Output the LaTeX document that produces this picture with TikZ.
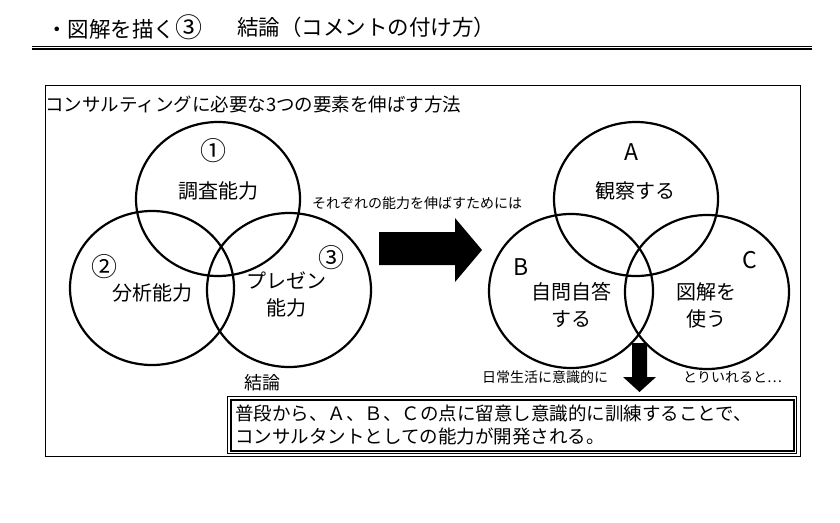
\documentclass[tikz,border=0pt]{standalone}
\usepackage{fontspec}
\setmainfont{Noto Sans CJK JP}
\usetikzlibrary{positioning,shapes.geometric}
\tikzset{
  venn/.style    = {ellipse, draw=black, line width=2.2pt, minimum width=164pt,
                    minimum height=154pt, inner sep=0pt},
  vlbl/.style    = {align=center, inner sep=0pt, font=\fontsize{20}{27}\selectfont},
  numlbl/.style  = {inner sep=0pt, font=\fontsize{26}{28}\selectfont},
  letlbl/.style  = {inner sep=0pt, font=\fontsize{23}{26}\selectfont},
  small/.style   = {anchor=west, inner sep=0pt, font=\fontsize{14}{17}\selectfont},
  heading/.style = {anchor=west, inner sep=0pt, font=\fontsize{18.5}{22}\selectfont},
  titletxt/.style = {anchor=west, inner sep=0pt, font=\fontsize{21.5}{24}\selectfont},
  blockarrow/.style = {fill=black},
}

\begin{document}
\begin{tikzpicture}[x=1pt, y=-1pt]
  \useasboundingbox (0,0) rectangle (840,522);

  % title and double rule
  \node[titletxt] (title) at (46,27) {・図解を描く{\fontsize{27}{28}\selectfont ③}};
  \node[titletxt] (subtitle) at (237,27) {結論（コメントの付け方）};
  \coordinate (ruleL) at (32,46);
  \coordinate (ruleR) at (812,46);
  \draw[line width=1pt] (ruleL) -- (ruleR);
  \draw[line width=2.5pt] ([yshift=-3pt]ruleL) -- ([yshift=-3pt]ruleR);

  % outer frame
  \node[draw, line width=1pt, minimum width=755pt, minimum height=371pt,
        inner sep=0pt, anchor=north west] (frame) at (45,85) {};
  \node[heading] (head) at (45,104) {コンサルティングに必要な3つの要素を伸ばす方法};

  % left venn diagram
  \node[venn] (survey) at (218,199) {};
  \node[venn] (analysis) at (152,288) {};
  \node[venn] (present) at (289,290) {};
  \node[numlbl] (n1) at (213,151) {①};
  \node[vlbl] (survey-t) at (218,191) {調査能力};
  \node[numlbl] (n2) at (104,267) {②};
  \node[vlbl] (analysis-t) at (152,293) {分析能力};
  \node[numlbl] (n3) at (331,258) {③};
  \node[vlbl] (present-t) at (286,294) {プレゼン\\能力};

  % big arrow
  \node[small] (toimprove) at (312,203) {それぞれの能力を伸ばすためには};
  \fill[blockarrow] (379,232) -- (455,232) -- (455,218) -- (482,250)
        -- (455,282) -- (455,265) -- (379,265) -- cycle;

  % right venn diagram
  \node[venn] (observe) at (636,199) {};
  \node[venn] (selfqa) at (571,291) {};
  \node[venn] (diagram) at (707,292) {};
  \node[letlbl] (nA) at (631,152) {A};
  \node[vlbl] (observe-t) at (635,191) {観察する};
  \node[letlbl] (nB) at (521,267) {B};
  \node[vlbl] (selfqa-t) at (571,305) {自問自答\\する};
  \node[letlbl] (nC) at (750,260) {C};
  \node[vlbl] (diagram-t) at (706,305) {図解を\\使う};

  % down arrow
  \fill[blockarrow] (632,343) -- (647,343) -- (647,377) -- (656,377)
        -- (639.5,392) -- (623,377) -- (632,377) -- cycle;
  \node[small] (daily) at (482,377) {日常生活に意識的に};
  \node[small] (adopt) at (683,377) {とりいれると…};

  % conclusion
  \node[inner sep=0pt, font=\fontsize{18}{22}\selectfont] (concl) at (262,383) {結論};
  \node[draw, line width=1pt, minimum width=569pt, minimum height=57pt,
        inner sep=0pt, anchor=north west] (boxout) at (227,396) {};
  \node[draw, line width=2pt, minimum width=563pt, minimum height=51pt,
        inner sep=0pt, anchor=north west] (boxin) at (230,399) {};
  \node[anchor=west, align=left, inner sep=0pt,
        font=\fontsize{18.5}{23}\selectfont] (concl-t) at (235,424.5)
        {普段から、Ａ、Ｂ、Ｃの点に留意し意識的に訓練することで、\\コンサルタントとしての能力が開発される。};
\end{tikzpicture}
\end{document}
